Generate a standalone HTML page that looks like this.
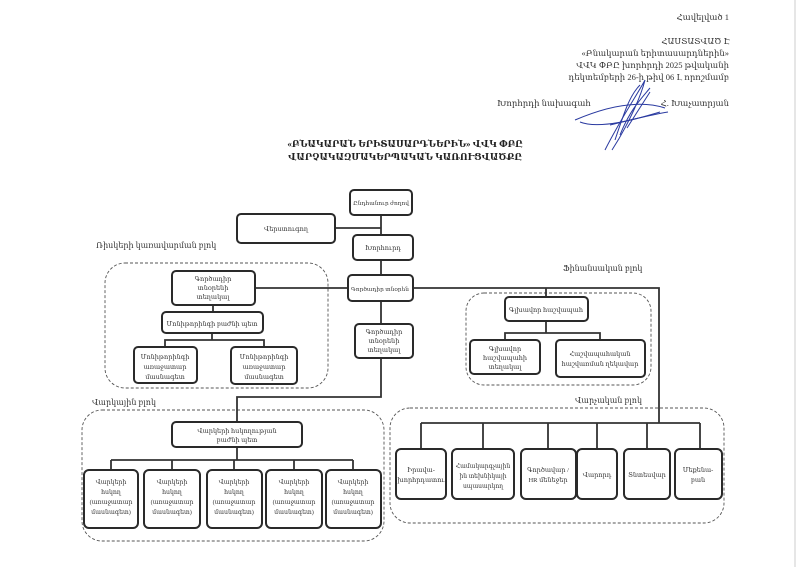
<!DOCTYPE html>
<html><head><meta charset="utf-8"><style>
html,body{margin:0;padding:0;background:#fff;}
svg{display:block;font-family:"Liberation Serif","DejaVu Serif",serif;}
</style></head><body>
<svg width="801" height="567" viewBox="0 0 801 567" xmlns="http://www.w3.org/2000/svg">
<rect width="801" height="567" fill="#fff"/>
<line x1="795" y1="0" x2="795" y2="567" stroke="#ccc" stroke-width="1"/>
<g font-size="8.5" fill="#333" text-anchor="end">
<text x="729" y="20">Հավելված 1</text>
<text x="730" y="44">ՀԱՍՏԱՏՎԱԾ Է</text>
<text x="729" y="56">«Բնակարան երիտասարդներին»</text>
<text x="729" y="68">ՎՎԿ ՓԲԸ խորհրդի 2025 թվականի</text>
<text x="729" y="80">դեկտեմբերի 26-ի թիվ 06 Լ որոշմամբ</text>
<text x="729" y="106">Հ. Խաչատրյան</text>
</g>
<text x="497" y="106" font-size="8.5" fill="#333">Խորհրդի նախագահ</text>
<g fill="none" stroke="#2a3aa0" stroke-width="1">
<path d="M575 120 C610 105 640 100 665 108 M580 122 C600 130 640 118 660 112"/>
<path d="M605 150 C620 120 640 90 645 80 C640 100 625 130 612 150"/>
<path d="M615 140 C625 110 630 95 640 85 M620 135 C630 110 640 100 650 88 M627 128 L650 92"/>
<path d="M610 125 C630 120 650 115 668 112"/>
</g>
<g font-size="9" fill="#222" text-anchor="middle" font-weight="bold">
<text x="405" y="147">«ԲՆԱԿԱՐԱՆ ԵՐԻՏԱՍԱՐԴՆԵՐԻՆ» ՎՎԿ ՓԲԸ</text>
<text x="405" y="160">ՎԱՐՉԱԿԱԶՄԱԿԵՐՊԱԿԱՆ ԿԱՌՈՒՑՎԱԾՔԸ</text>
</g>
<g fill="none" stroke="#555" stroke-width="0.9" stroke-dasharray="3,2">
<rect x="105" y="263" width="223" height="125" rx="20"/>
<rect x="466" y="293" width="185" height="92" rx="18"/>
<rect x="82" y="410" width="302" height="131" rx="20"/>
<rect x="390" y="408" width="334" height="115" rx="20"/>
</g>
<g font-size="8" fill="#333">
<text x="96" y="248">Ռիսկերի կառավարման բլոկ</text>
<text x="563" y="271">Ֆինանսական բլոկ</text>
<text x="92" y="405">Վարկային բլոկ</text>
<text x="575" y="403">Վարչական բլոկ</text>
</g>
<g fill="none" stroke="#333" stroke-width="1.8">
<path d="M381 215 V235 M335 228 H381 M381 260 V275"/>
<path d="M255 288 H348 M381 301 V324 M381 358 V397 H237 V422"/>
<path d="M213 305 V312 M212 333 V340 H165 V347 M212 340 H264 V347"/>
<path d="M413 288 H659 V423 M546 288 V297 M546 321 V333 H505 V340 M546 333 H600 V340"/>
<path d="M237 447 V460 M111 460 H353 M111 460 V470 M172 460 V470 M234 460 V470 M294 460 V470 M353 460 V470"/>
<path d="M421 423 H700 M421 423 V449 M483 423 V449 M548 423 V449 M597 423 V449 M647 423 V449 M700 423 V449"/>
</g>
<g fill="#fff" stroke="#2a2a2a" stroke-width="2">
<rect x="350" y="190" width="62" height="25" rx="4"/>
<rect x="237" y="214" width="98" height="29" rx="4"/>
<rect x="353" y="235" width="60" height="25" rx="4"/>
<rect x="348" y="275" width="65" height="26" rx="4"/>
<rect x="172" y="271" width="83" height="34" rx="4"/>
<rect x="162" y="312" width="101" height="21" rx="4"/>
<rect x="134" y="347" width="63" height="36" rx="4"/>
<rect x="231" y="347" width="66" height="37" rx="4"/>
<rect x="355" y="324" width="58" height="34" rx="4"/>
<rect x="505" y="297" width="83" height="24" rx="4"/>
<rect x="470" y="340" width="70" height="34" rx="4"/>
<rect x="556" y="340" width="89" height="37" rx="4"/>
<rect x="172" y="422" width="130" height="25" rx="4"/>
<rect x="84" y="470" width="54" height="58" rx="5"/>
<rect x="144" y="470" width="56" height="58" rx="5"/>
<rect x="207" y="470" width="55" height="58" rx="5"/>
<rect x="266" y="470" width="56" height="58" rx="5"/>
<rect x="326" y="470" width="55" height="58" rx="5"/>
<rect x="396" y="449" width="50" height="50" rx="5"/>
<rect x="452" y="449" width="62" height="50" rx="5"/>
<rect x="521" y="449" width="55" height="50" rx="5"/>
<rect x="577" y="449" width="40" height="50" rx="5"/>
<rect x="624" y="449" width="46" height="50" rx="5"/>
<rect x="675" y="449" width="47" height="50" rx="5"/>
</g>
<g font-size="6.5" fill="#333" text-anchor="middle">
<text x="381" y="205" font-size="5.8">Ընդհանուր ժողով</text>
<text x="286" y="231">Վերստուգող</text>
<text x="383" y="250">Խորհուրդ</text>
<text x="380" y="291" font-size="5.8">Գործադիր տնօրեն</text>
<text x="213" y="281">Գործադիր</text><text x="213" y="290">տնօրենի</text><text x="213" y="299">տեղակալ</text>
<text x="212" y="326" font-size="6.5">Մոնիթորինգի բաժնի պետ</text>
<text x="165" y="359">Մոնիթորինգի</text><text x="165" y="369">առաջատար</text><text x="165" y="379">մասնագետ</text>
<text x="264" y="359">Մոնիթորինգի</text><text x="264" y="369">առաջատար</text><text x="264" y="379">մասնագետ</text>
<text x="384" y="334">Գործադիր</text><text x="384" y="343">տնօրենի</text><text x="384" y="352">տեղակալ</text>
<text x="546" y="312">Գլխավոր հաշվապահ</text>
<text x="505" y="351">Գլխավոր</text><text x="505" y="360">հաշվապահի</text><text x="505" y="369">տեղակալ</text>
<text x="600" y="356">Հաշվապահական</text><text x="600" y="366">հաշվառման ղեկավար</text>
<text x="237" y="433">Վարկերի հսկողության</text><text x="237" y="442">բաժնի պետ</text>
<g font-size="6.2">
<text x="111" y="484">Վարկերի</text><text x="111" y="494">հսկող</text><text x="111" y="504">(առաջատար</text><text x="111" y="514">մասնագետ)</text>
<text x="172" y="484">Վարկերի</text><text x="172" y="494">հսկող</text><text x="172" y="504">(առաջատար</text><text x="172" y="514">մասնագետ)</text>
<text x="234" y="484">Վարկերի</text><text x="234" y="494">հսկող</text><text x="234" y="504">(առաջատար</text><text x="234" y="514">մասնագետ)</text>
<text x="294" y="484">Վարկերի</text><text x="294" y="494">հսկող</text><text x="294" y="504">(առաջատար</text><text x="294" y="514">մասնագետ)</text>
<text x="353" y="484">Վարկերի</text><text x="353" y="494">հսկող</text><text x="353" y="504">(առաջատար</text><text x="353" y="514">մասնագետ)</text>
</g>
<text x="421" y="472">Իրավա-</text><text x="421" y="482">խորհրդատու</text>
<text x="483" y="468" font-size="6">Համակարգչային</text><text x="483" y="478" font-size="6">ին տեխնիկայի</text><text x="483" y="488" font-size="6">սպասարկող</text>
<text x="548" y="472">Գործավար /</text><text x="548" y="482">HR մենեջեր</text>
<text x="597" y="477">Վարորդ</text>
<text x="647" y="477">Տնտեսվար</text>
<text x="698" y="472">Մեքենա-</text><text x="698" y="482">բան</text>
</g>
</svg>
</body></html>
